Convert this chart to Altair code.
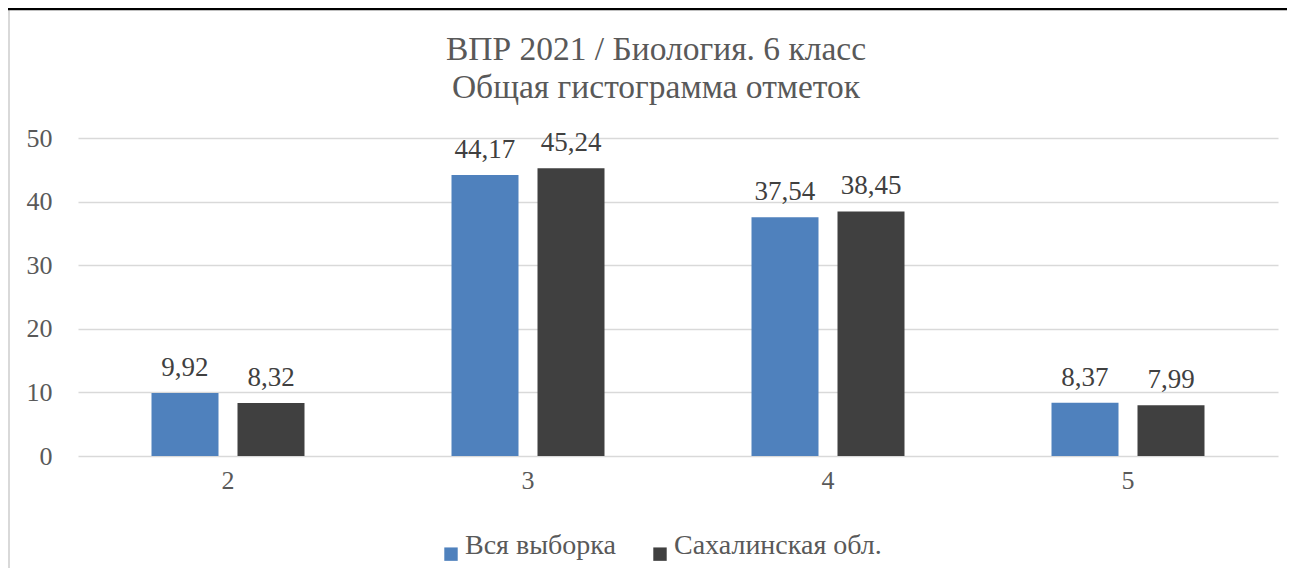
import altair as alt
import pandas as pd

grades = ["2", "3", "4", "5"]
series_names = ["Вся выборка", "Сахалинская обл."]
vsya = [9.92, 44.17, 37.54, 8.37]
sakhalin = [8.32, 45.24, 38.45, 7.99]
colors = ["#4F81BD", "#404040"]
title_lines = ["ВПР 2021 / Биология. 6 класс", "Общая гистограмма отметок"]

rows = []
for g, a, b in zip(grades, vsya, sakhalin):
    rows.append({"grade": g, "series": series_names[0], "value": a, "label": f"{a:.2f}".replace(".", ",")})
    rows.append({"grade": g, "series": series_names[1], "value": b, "label": f"{b:.2f}".replace(".", ",")})
df = pd.DataFrame(rows)

W, H = 1200, 318
FONT = "Times New Roman, Liberation Serif, DejaVu Serif, serif"

x = alt.X("grade:N", sort=grades, title=None,
          scale=alt.Scale(paddingInner=0.49, paddingOuter=0.245),
          axis=alt.Axis(labelAngle=0, labelFontSize=26, labelColor="#595959", labelFont=FONT,
                        labelPadding=11, ticks=False, domain=False, grid=False))
xo = alt.XOffset("series:N", sort=series_names, scale=alt.Scale(paddingInner=0.221, paddingOuter=0))
y = alt.Y("value:Q", title=None,
          scale=alt.Scale(domain=[0, 50], nice=False),
          axis=alt.Axis(values=[0, 10, 20, 30, 40, 50], labelFontSize=26, labelColor="#595959",
                        labelFont=FONT, labelPadding=26, ticks=False, domain=False,
                        gridColor="#D9D9D9", gridWidth=1.5))

base = alt.Chart(df)

bars = base.mark_bar().encode(
    x=x, xOffset=xo, y=y,
    color=alt.Color("series:N", sort=series_names,
                    scale=alt.Scale(domain=series_names, range=colors),
                    legend=alt.Legend(title=None, orient="none", direction="horizontal",
                                      legendX=359, legendY=402, symbolType="square",
                                      symbolSize=180, symbolStrokeWidth=0,
                                      labelFontSize=28, labelFont=FONT, labelColor="#595959",
                                      labelBaseline="alphabetic",
                                      labelOffset=0, columnPadding=30, labelLimit=400)),
)

labels = base.mark_text(baseline="alphabetic", dy=-17, fontSize=27, font=FONT, color="#404040").encode(
    x=alt.X("grade:N", sort=grades), xOffset=alt.XOffset("series:N", sort=series_names),
    y="value:Q", text="label:N",
)

tdf = pd.DataFrame({"t": title_lines, "i": [0, 1]})
title1 = alt.Chart(tdf).transform_filter("datum.i == 0").mark_text(
    fontSize=33.5, font=FONT, color="#595959", baseline="alphabetic", align="center").encode(
    x=alt.value(W / 2 - 22), y=alt.value(-78), text="t:N")
title2 = alt.Chart(tdf).transform_filter("datum.i == 1").mark_text(
    fontSize=33.5, font=FONT, color="#595959", baseline="alphabetic", align="center").encode(
    x=alt.value(W / 2 - 22), y=alt.value(-40), text="t:N")

frame_left = alt.Chart(pd.DataFrame({"a": [0]})).mark_rule(color="#D9D9D9", strokeWidth=2).encode(
    x=alt.value(-69), y=alt.value(-130), y2=alt.value(H + 112))
frame_top = alt.Chart(pd.DataFrame({"a": [0]})).mark_rule(color="#000000", strokeWidth=2.5).encode(
    x=alt.value(-70), x2=alt.value(W + 9), y=alt.value(-129))

chart = alt.layer(bars, labels, title1, title2, frame_left, frame_top).properties(
    width=W, height=H,
    autosize=alt.AutoSizeParams(type="none"),
    padding={"left": 70, "top": 130, "right": 9, "bottom": 112},
    background="white",
).configure_view(stroke=None)

chart.save("out.html", embed_options={"renderer": "svg", "actions": False})
